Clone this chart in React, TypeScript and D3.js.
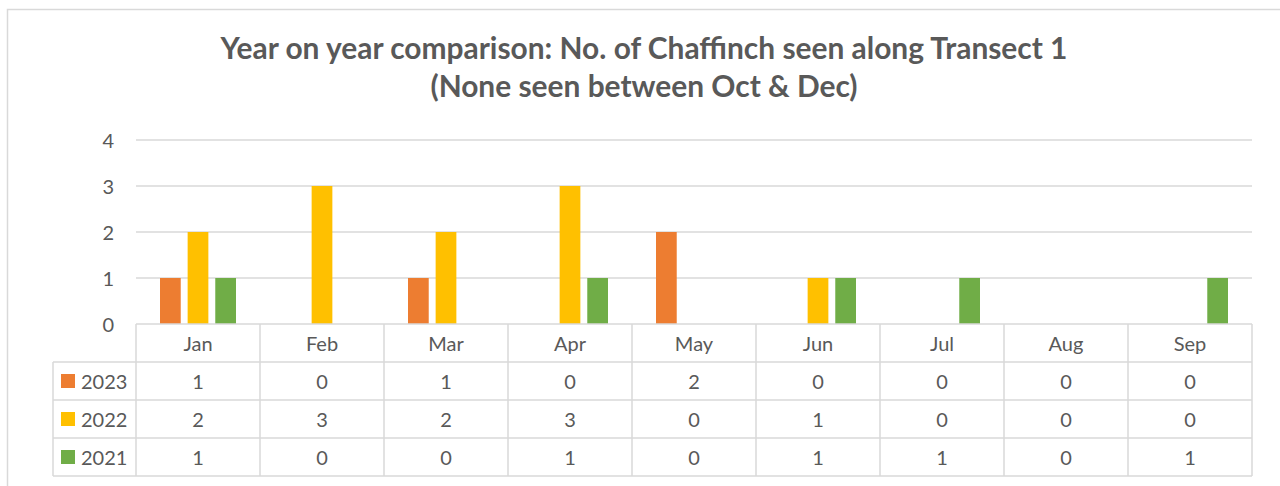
import * as d3 from "d3";

// Chart data
const months = ["Jan", "Feb", "Mar", "Apr", "May", "Jun", "Jul", "Aug", "Sep"];
const years = ["2023", "2022", "2021"];
const counts2023 = [1, 0, 1, 0, 2, 0, 0, 0, 0];
const counts2022 = [2, 3, 2, 3, 0, 1, 0, 0, 0];
const counts2021 = [1, 0, 0, 1, 0, 1, 1, 0, 1];
const yTicks = [0, 1, 2, 3, 4];
const colors = ["#ED7D31", "#FFC000", "#70AD47"];

const titleLines = [
    "Year on year comparison: No. of Chaffinch seen along Transect 1",
    "(None seen between Oct & Dec)",
];

function App() {
    const W = 1280, H = 486;
    const series = [counts2023, counts2022, counts2021];

    const plot = { left: 136, right: 1252, top: 140, bottom: 324 };
    const rowH = 38;
    const tableLeft = 53;
    const textColor = "#595959";
    const gridColor = "#D9D9D9";
    const font = "Lato, Calibri, Carlito, sans-serif";
    const fs = 20;

    const x = d3.scaleBand().domain(months).range([plot.left, plot.right]);
    // bars sit inside each month, Excel style gap
    const x1 = d3.scaleBand().domain(years).range([24, x.bandwidth() - 24]).paddingInner(0.25);
    const y = d3.scaleLinear().domain([0, 4]).range([plot.bottom, plot.top]);

    const tableBottom = plot.bottom + rowH * (years.length + 1);

    return (
        <svg width={W} height={H} style={{ position: "absolute", left: 0, top: 0 }} fontFamily={font}>
            <rect x={0} y={0} width={W} height={H} fill="#fff" />
            {/* chart border */}
            <path d={`M7.5,${H} V9.5 H${W}`} fill="none" stroke={gridColor} strokeWidth={1.5} />

            {titleLines.map((t, i) => (
                <text key={i} x={644} y={59 + i * 38} textAnchor="middle" fontSize={29.9}
                    fontWeight="bold" fill={textColor}>{t}</text>
            ))}

            {/* gridlines + y labels */}
            {yTicks.map((t) => (
                <g key={t}>
                    {t > 0 && <line x1={plot.left} x2={plot.right} y1={y(t)} y2={y(t)} stroke={gridColor} strokeWidth={1.5} />}
                    <text x={114} y={y(t)} textAnchor="end" dominantBaseline="central" fontSize={fs} fill={textColor}>{t}</text>
                </g>
            ))}

            {/* bars */}
            {series.map((vals, si) => (
                <g key={years[si]} fill={colors[si]}>
                    {vals.map((v, i) => v > 0 && (
                        <rect key={i} x={(x(months[i]) as number) + (x1(years[si]) as number)} y={y(v)}
                            width={x1.bandwidth()} height={y(0) - y(v)} />
                    ))}
                </g>
            ))}

            {/* data table */}
            <g stroke={gridColor} strokeWidth={1.5} fill="none">
                <line x1={plot.left} x2={plot.right} y1={plot.bottom} y2={plot.bottom} />
                {years.map((yr, r) => (
                    <line key={yr} x1={tableLeft} x2={plot.right}
                        y1={plot.bottom + rowH * (r + 1)} y2={plot.bottom + rowH * (r + 1)} />
                ))}
                <line x1={tableLeft} x2={plot.right} y1={tableBottom} y2={tableBottom} />
                <line x1={tableLeft} x2={tableLeft} y1={plot.bottom + rowH} y2={tableBottom} />
                {months.map((m) => (
                    <line key={m} x1={x(m)} x2={x(m)} y1={plot.bottom} y2={tableBottom} />
                ))}
                <line x1={plot.right} x2={plot.right} y1={plot.bottom} y2={tableBottom} />
            </g>

            {months.map((m) => (
                <text key={m} x={(x(m) as number) + x.bandwidth() / 2} y={plot.bottom + rowH / 2}
                    textAnchor="middle" dominantBaseline="central" fontSize={fs} fill={textColor}>{m}</text>
            ))}

            {series.map((vals, si) => {
                const cy = plot.bottom + rowH * (si + 1) + rowH / 2;
                return (
                    <g key={years[si]}>
                        <rect x={61} y={cy - 7} width={14} height={14} fill={colors[si]} />
                        <text x={81} y={cy} dominantBaseline="central" fontSize={fs} fill={textColor}>{years[si]}</text>
                        {vals.map((v, i) => (
                            <text key={i} x={(x(months[i]) as number) + x.bandwidth() / 2} y={cy}
                                textAnchor="middle" dominantBaseline="central" fontSize={fs} fill={textColor}>{v}</text>
                        ))}
                    </g>
                );
            })}
        </svg>
    );
}

export default App;
